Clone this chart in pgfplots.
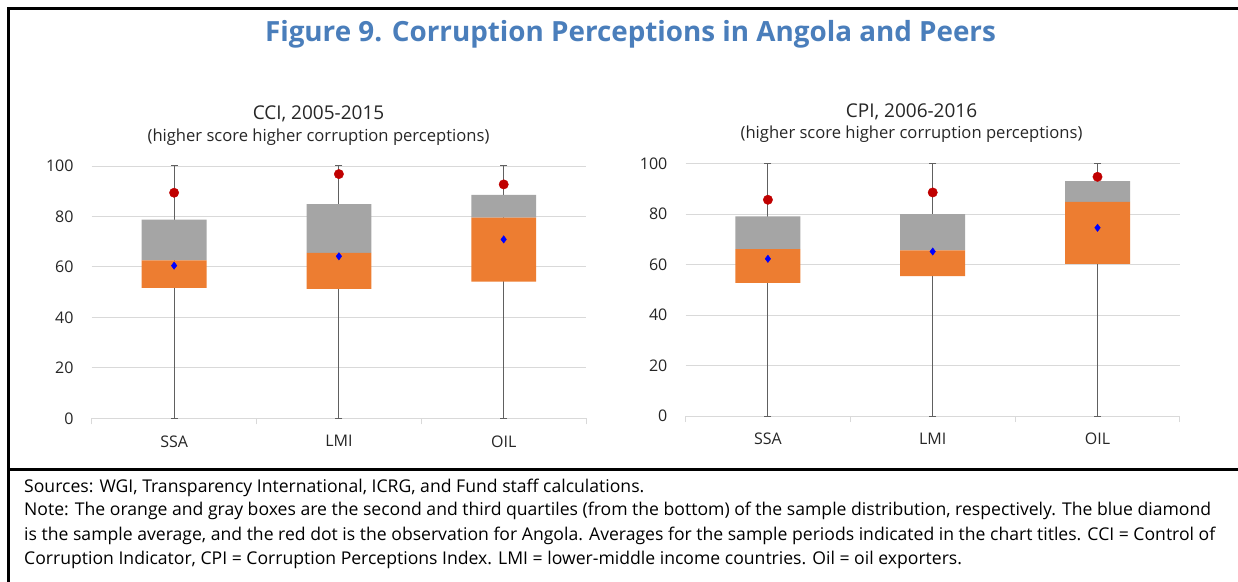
\documentclass[border=0pt]{standalone}
\usepackage{pgfplots}
\pgfplotsset{compat=1.18}
\usepackage{pgfplotstable}
\usepackage{fontspec}
\setmainfont{Open Sans}
\definecolor{boxorange}{HTML}{ED7D31}
\definecolor{boxgray}{HTML}{A5A5A5}
\definecolor{gridgray}{HTML}{D9D9D9}
\definecolor{whisk}{HTML}{606060}
\definecolor{angred}{HTML}{C00000}
\definecolor{titleblue}{HTML}{4A7EBB}
\definecolor{txt}{HTML}{262626}

% CCI, 2005-2015
\pgfplotstableread{
x lo q1 med q3 hi mean angola
0 0 51.7 62.6 78.7 100 60.5 89.4
1 0 51.3 65.6 84.9 100 64.2 96.8
2 0 54.2 79.5 88.6 100 70.9 92.7
}\cci
% CPI, 2006-2016
\pgfplotstableread{
x lo q1 med q3 hi mean angola
0 0 52.8 66.1 79.1 100 62.3 85.7
1 0 55.4 65.6 80.0 100 65.2 88.6
2 0 60.3 84.9 93.1 100 74.6 94.8
}\cpi

\pgfplotsset{
  panel/.style={scale only axis, width=494.4pt, height=252.3pt,
    xmin=-0.5, xmax=2.5, ymin=0, ymax=100, anchor=south west, clip=false},
  base/.style={panel,
    axis x line*=bottom, axis y line*=left,
    y axis line style={draw=none},
    x axis line style={gridgray, line width=1pt},
    ytick={0,20,...,100}, ymajorgrids,
    grid style={gridgray, line width=0.9pt},
    xtick={0,1,2}, xticklabels={SSA,LMI,OIL},
    major tick length=0pt,
    extra x ticks={-0.5,0.5,1.5,2.5}, extra x tick labels={},
    extra x tick style={major tick length=6pt, tick align=outside,
      tick style={gridgray, line width=1pt}, grid=none},
    tick label style={font=\fontsize{16}{19}\selectfont, text=txt, inner sep=0pt},
    /pgf/number format/assume math mode=true,
    yticklabel shift=18pt, xticklabel shift=17pt},
  over/.style={panel, hide axis},
}

\begin{document}
\begin{tikzpicture}[x=1pt, y=1pt]
\useasboundingbox (0,0) rectangle (1238,581);
\fill[white] (0,0) rectangle (1238,581);

% ---------- left panel: CCI ----------
\begin{axis}[base, at={(91.7pt,162.7pt)}]
  \addplot[whisk, line width=1pt, ycomb, mark=-, mark size=3.5pt] table[x=x, y=hi]{\cci};
  \addplot[whisk, only marks, mark=-, mark size=3.5pt, line width=1pt] table[x=x, y=lo]{\cci};
\end{axis}
\begin{axis}[over, at={(91.7pt,162.7pt)}, ybar stacked, bar width=64.8pt]
  \addplot[draw=none, fill=none] table[x=x, y=q1]{\cci};
  \addplot[draw=none, fill=boxorange] table[x=x, y expr=\thisrow{med}-\thisrow{q1}]{\cci};
  \addplot[draw=none, fill=boxgray] table[x=x, y expr=\thisrow{q3}-\thisrow{med}]{\cci};
\end{axis}
\begin{axis}[over, at={(91.7pt,162.7pt)}]
  \addplot[only marks, mark=*, mark size=4.7pt, color=angred] table[x=x, y=angola]{\cci};
  \addplot[only marks, mark=diamond*, mark size=3.7pt, color=blue] table[x=x, y=mean]{\cci};
\end{axis}

% ---------- right panel: CPI ----------
\begin{axis}[base, at={(685.5pt,165pt)}]
  \addplot[whisk, line width=1pt, ycomb, mark=-, mark size=3.5pt] table[x=x, y=hi]{\cpi};
  \addplot[whisk, only marks, mark=-, mark size=3.5pt, line width=1pt] table[x=x, y=lo]{\cpi};
\end{axis}
\begin{axis}[over, at={(685.5pt,165pt)}, ybar stacked, bar width=65pt]
  \addplot[draw=none, fill=none] table[x=x, y=q1]{\cpi};
  \addplot[draw=none, fill=boxorange] table[x=x, y expr=\thisrow{med}-\thisrow{q1}]{\cpi};
  \addplot[draw=none, fill=boxgray] table[x=x, y expr=\thisrow{q3}-\thisrow{med}]{\cpi};
\end{axis}
\begin{axis}[over, at={(685.5pt,165pt)}]
  \addplot[only marks, mark=*, mark size=4.7pt, color=angred] table[x=x, y=angola]{\cpi};
  \addplot[only marks, mark=diamond*, mark size=3.7pt, color=blue] table[x=x, y=mean]{\cpi};
\end{axis}

% ---------- titles ----------
\node[titleblue, font=\fontsize{27.8}{32}\selectfont\bfseries, anchor=base] at (630.5,539) {Figure 9. Corruption Perceptions in Angola and Peers};
\node[txt, font=\fontsize{19}{22}\selectfont, anchor=base] at (318.5,461.5) {CCI, 2005-2015};
\node[txt, font=\fontsize{16.6}{19}\selectfont, anchor=base] at (318.5,439.5) {(higher score higher corruption perceptions)};
\node[txt, font=\fontsize{19}{22}\selectfont, anchor=base] at (911.5,463.5) {CPI, 2006-2016};
\node[txt, font=\fontsize{16.6}{19}\selectfont, anchor=base] at (911.5,442) {(higher score higher corruption perceptions)};

% ---------- frame ----------
\draw[black, line width=3pt] (8,-3) -- (8,572) -- (1242,572);
\draw[black, line width=3pt] (8,112) -- (1242,112);

% ---------- notes ----------
\begin{scope}[every node/.style={anchor=base west, inner sep=0pt, font=\fontsize{17.6}{21}\selectfont, text=black}]
\node at (24,89) {Sources: WGI, Transparency International, ICRG, and Fund staff calculations.};
\node at (24,66) {Note: The orange and gray boxes are the second and third quartiles (from the bottom) of the sample distribution, respectively. The blue diamond};
\node at (24,41) {is the sample average, and the red dot is the observation for Angola. Averages for the sample periods indicated in the chart titles. CCI = Control of};
\node at (24,17) {Corruption Indicator, CPI = Corruption Perceptions Index. LMI = lower-middle income countries. Oil = oil exporters.};
\end{scope}
\end{tikzpicture}
\end{document}
